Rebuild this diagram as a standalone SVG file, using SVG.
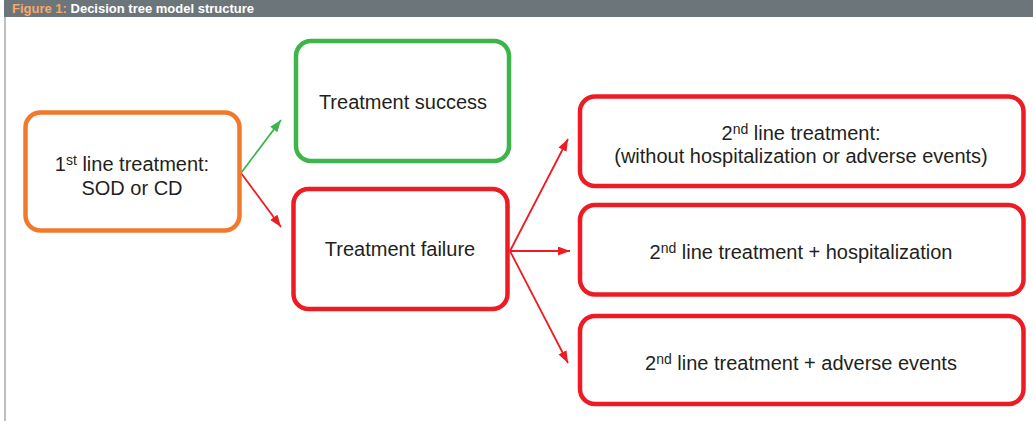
<svg xmlns="http://www.w3.org/2000/svg" width="1033" height="421" viewBox="0 0 1033 421">
<style>
.box{fill:#fff;stroke-width:4.5}
.or{stroke:#f07a2a}
.gr{stroke:#3db54a}
.rd{stroke:#ed1c24}
.t{font-family:"Liberation Sans",Arial,sans-serif;font-size:20px;fill:#231f20;text-anchor:middle}
.sup{font-size:14px}
.hd{font-family:"Liberation Sans",Arial,sans-serif;font-size:13px;font-weight:bold}
.cg{stroke:#3db54a;stroke-width:1.8;fill:none}
.cr{stroke:#ed1c24;stroke-width:1.8;fill:none}
</style>
<defs>
<marker id="ag" markerUnits="userSpaceOnUse" markerWidth="13" markerHeight="10" refX="12" refY="4.5" orient="auto">
<path d="M0,0 L12,4.5 L0,9 Z" fill="#3db54a"/>
</marker>
<marker id="ar" markerUnits="userSpaceOnUse" markerWidth="13" markerHeight="10" refX="12" refY="4.5" orient="auto">
<path d="M0,0 L12,4.5 L0,9 Z" fill="#ed1c24"/>
</marker>
</defs>
<rect width="1033" height="421" fill="#fff"/>
<g id="header">
<rect x="4" y="0" width="1029" height="17" fill="#6c767a"/>
<line x1="5" y1="17" x2="5" y2="421" stroke="#a8a8a8" stroke-width="1.5"/>
<text class="hd" x="12" y="13"><tspan fill="#f7a86c">Figure 1:</tspan><tspan fill="#ffffff"> Decision tree model structure</tspan></text>
</g>
<g id="connectors">
<line class="cg" x1="241" y1="173" x2="281" y2="120" marker-end="url(#ag)"/>
<line class="cr" x1="241" y1="173" x2="281" y2="227" marker-end="url(#ar)"/>
<line class="cr" x1="510" y1="251" x2="568" y2="139" marker-end="url(#ar)"/>
<line class="cr" x1="510" y1="251" x2="570" y2="251" marker-end="url(#ar)"/>
<line class="cr" x1="510" y1="251" x2="568" y2="363" marker-end="url(#ar)"/>
</g>
<g id="first-line">
<rect class="box or" x="25.5" y="112.5" width="214" height="118" rx="15"/>
<text class="t" x="132" y="171">1<tspan class="sup" dy="-6">st</tspan><tspan dy="6"> line treatment:</tspan></text>
<text class="t" x="132" y="195">SOD or CD</text>
</g>
<g id="success">
<rect class="box gr" x="296" y="41" width="213" height="120" rx="15"/>
<text class="t" x="403" y="109">Treatment success</text>
</g>
<g id="failure">
<rect class="box rd" x="293.5" y="189" width="214" height="120" rx="15"/>
<text class="t" x="400" y="256">Treatment failure</text>
</g>
<g id="second-plain">
<rect class="box rd" x="580" y="96.5" width="443.5" height="89.5" rx="15"/>
<text class="t" x="801" y="140">2<tspan class="sup" dy="-6">nd</tspan><tspan dy="6"> line treatment:</tspan></text>
<text class="t" x="801" y="163">(without hospitalization or adverse events)</text>
</g>
<g id="second-hosp">
<rect class="box rd" x="580" y="205" width="443.5" height="89.5" rx="15"/>
<text class="t" x="801" y="259">2<tspan class="sup" dy="-6">nd</tspan><tspan dy="6"> line treatment + hospitalization</tspan></text>
</g>
<g id="second-ae">
<rect class="box rd" x="580" y="316" width="443.5" height="88" rx="15"/>
<text class="t" x="801" y="370">2<tspan class="sup" dy="-6">nd</tspan><tspan dy="6"> line treatment + adverse events</tspan></text>
</g>
</svg>
